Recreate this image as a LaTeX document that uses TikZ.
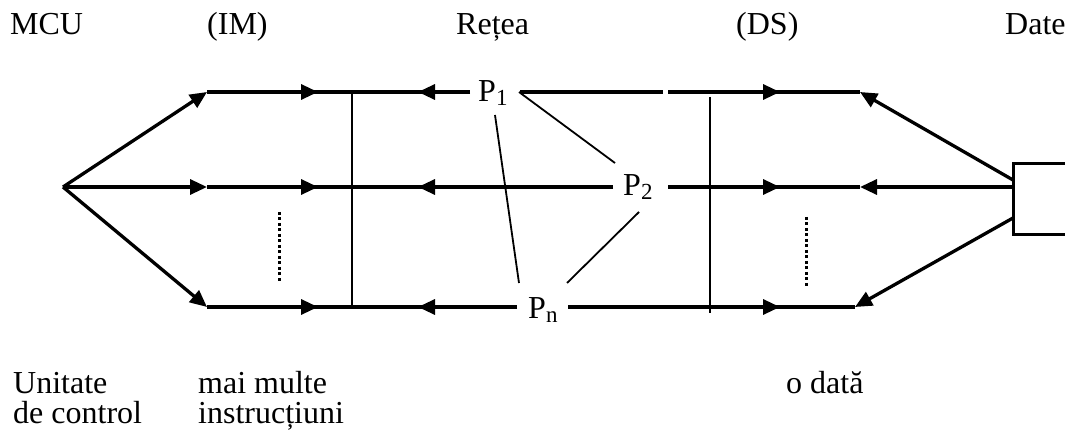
\documentclass[tikz,border=0pt]{standalone}
\usepackage{fontspec}
\setmainfont{Liberation Serif}
\usetikzlibrary{arrows.meta}
\newcommand\psub[1]{\raisebox{-4pt}{\fontsize{23}{23}\selectfont #1}}
\tikzset{
  heavy/.style={line width=3.3pt},
  arr/.style={line width=3.3pt, -{Triangle[length=17pt,width=15pt]}},
  thinl/.style={line width=1.8pt},
  dots/.style={line width=3pt, dash pattern=on 3pt off 2.5pt},
  lbl/.style={font=\fontsize{32}{30}\selectfont, inner sep=0pt, anchor=base west},
}
\begin{document}
\begin{tikzpicture}[x=1pt,y=-1pt]
\useasboundingbox (0,0) rectangle (1065,438);
% labels
\node[lbl] (mcu) at (10,35) {MCU};
\node[lbl] (im) at (207,35) {(IM)};
\node[lbl] (retea) at (456,35) {Rețea};
\node[lbl] (ds) at (736,35) {(DS)};
\node[lbl] (date) at (1005,35) {Date};
\node[lbl] (u1) at (13,393) {Unitate};
\node[lbl] (u2) at (13,423) {de control};
\node[lbl] (m1) at (198,393) {mai multe};
\node[lbl] (m2) at (198,423) {instrucțiuni};
\node[lbl] (od) at (786,393) {o dată};
\node[lbl] (p1) at (478,102) {P\psub{1}};
\node[lbl] (p2) at (623,196) {P\psub{2}};
\node[lbl] (pn) at (528,318) {P\psub{n}};
% coordinates
\coordinate (apex) at (63,187);
\coordinate (a1) at (207,92);
\coordinate (a2) at (207,187);
\coordinate (a3) at (207,307);
\coordinate (r1) at (318,92);
\coordinate (r2) at (318,187);
\coordinate (r3) at (318,307);
\coordinate (l1) at (418,92);
\coordinate (l2) at (418,187);
\coordinate (l3) at (418,307);
\coordinate (e1) at (470,92);
\coordinate (e2) at (613,187);
\coordinate (e3) at (517,307);
\coordinate (s1) at (520,92);
\coordinate (g1) at (663,92);
\coordinate (g2) at (668,92);
\coordinate (s2) at (668,187);
\coordinate (s3) at (568,307);
\coordinate (q1) at (780,92);
\coordinate (q2) at (780,187);
\coordinate (q3) at (780,307);
\coordinate (t1) at (860,92);
\coordinate (t2) at (860,187);
\coordinate (t3) at (855,307);
\coordinate (b1) at (1013,180);
\coordinate (b2) at (1013,187);
\coordinate (b3) at (1013,218);
% source box
\draw[line width=3pt] (1080,164) -- (1013,164) -- (1013,235) -- (1080,235);
% left fan
\draw[arr] (apex) -- (a1);
\draw[arr] (apex) -- (a2);
\draw[arr] (apex) -- (a3);
% left rows
\foreach \i in {1,2,3}{
  \draw[heavy] (a\i) -- (e\i);
  \draw[arr] (a\i) -- (r\i);
  \draw[arr] (e\i) -- (l\i);
}
% right rows
\draw[heavy] (s1) -- (g1);
\draw[heavy] (g2) -- (t1);
\draw[arr] (g2) -- (q1);
\draw[heavy] (s2) -- (t2);
\draw[arr] (s2) -- (q2);
\draw[heavy] (s3) -- (t3);
\draw[arr] (s3) -- (q3);
% right fan
\draw[arr] (b1) -- (t1);
\draw[arr] (b2) -- (t2);
\draw[arr] (b3) -- (t3);
% vertical buses
\coordinate (vl1) at (352,92);
\coordinate (vl2) at (352,307);
\coordinate (vr1) at (710,97);
\coordinate (vr2) at (710,313);
\draw[thinl] (vl1) -- (vl2);
\draw[thinl] (vr1) -- (vr2);
% network links
\coordinate (n1a) at (519,92);
\coordinate (n1b) at (615,163);
\coordinate (n2a) at (495,115);
\coordinate (n2b) at (519,283);
\coordinate (n3a) at (639,212);
\coordinate (n3b) at (567,283);
\draw[thinl] (n1a) -- (n1b);
\draw[thinl] (n2a) -- (n2b);
\draw[thinl] (n3a) -- (n3b);
% dotted ellipses
\coordinate (d1a) at (279,212);
\coordinate (d1b) at (279,282);
\coordinate (d2a) at (806,217);
\coordinate (d2b) at (806,287);
\draw[dots] (d1a) -- (d1b);
\draw[dots] (d2a) -- (d2b);
\end{tikzpicture}
\end{document}
